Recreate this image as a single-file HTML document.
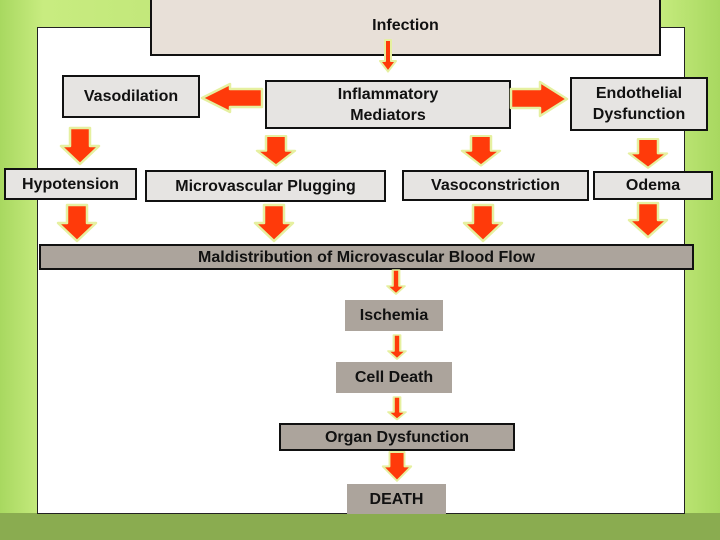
<!DOCTYPE html>
<html><head><style>
body{margin:0;width:720px;height:540px;overflow:hidden;font-family:"Liberation Sans",sans-serif;}
.bg{position:absolute;left:0;top:0;width:720px;height:540px;background:linear-gradient(90deg,#a8d860 0%,#c8ec80 6%,#b8e070 50%,#c4ea7c 92%,#a8d860 100%);}
.bot{position:absolute;left:0;top:513px;width:720px;height:27px;background:#8aac50;}
.panel{position:absolute;left:37px;top:27px;width:646px;height:485px;background:#fff;border:1px solid #222;}
.b{position:absolute;box-sizing:border-box;display:flex;align-items:center;justify-content:center;text-align:center;font-weight:bold;font-size:16px;color:#111;line-height:21px;}
.g{background:#e6e4e2;border:2px solid #111;}
.d{background:#aca49c;}
</style></head><body>
<div class="bg"></div><div class="bot"></div><div class="panel"></div>
<div class="b" style="left:150px;top:-3px;width:511px;height:59px;background:#e8e0d8;border:2px solid #111;align-items:flex-start;padding-top:16px">Infection</div>
<div class="b g" style="left:62px;top:75px;width:138px;height:43px">Vasodilation</div>
<div class="b g" style="left:265px;top:80px;width:246px;height:49px">Inflammatory<br>Mediators</div>
<div class="b g" style="left:570px;top:77px;width:138px;height:54px">Endothelial<br>Dysfunction</div>
<div class="b g" style="left:4px;top:168px;width:133px;height:32px">Hypotension</div>
<div class="b g" style="left:145px;top:170px;width:241px;height:32px">Microvascular Plugging</div>
<div class="b g" style="left:402px;top:170px;width:187px;height:31px">Vasoconstriction</div>
<div class="b g" style="left:593px;top:171px;width:120px;height:29px">Odema</div>
<div class="b d" style="left:39px;top:244px;width:655px;height:26px;border:2px solid #111">Maldistribution of Microvascular Blood Flow</div>
<div class="b d" style="left:345px;top:300px;width:98px;height:31px">Ischemia</div>
<div class="b d" style="left:336px;top:362px;width:116px;height:31px">Cell Death</div>
<div class="b d" style="left:279px;top:423px;width:236px;height:28px;border:2px solid #111">Organ Dysfunction</div>
<div class="b d" style="left:347px;top:484px;width:99px;height:30px">DEATH</div>
<svg width="720" height="540" style="position:absolute;left:0;top:0">
<defs><g id="dn"><polygon points="-10,0 10,0 10,18 19,18 0,36 -19,18 -10,18" fill="#ff3a0a" stroke="#e6f0a0" stroke-width="2.5" stroke-linejoin="round"/></g>
<g id="th"><polygon points="-3,0 3,0 3,20 8,20 0,30 -8,20 -3,20" fill="#ff3a0a" stroke="#e6f0a0" stroke-width="2" stroke-linejoin="round"/></g></defs>
<use href="#dn" transform="translate(80,128)"/>
<use href="#dn" transform="translate(276,136) scale(1,0.82)"/>
<use href="#dn" transform="translate(481,136) scale(1,0.82)"/>
<use href="#dn" transform="translate(648,139) scale(1,0.8)"/>
<use href="#dn" transform="translate(77,205)"/>
<use href="#dn" transform="translate(274,205)"/>
<use href="#dn" transform="translate(483,205)"/>
<use href="#dn" transform="translate(648,203) scale(1,0.95)"/>
<use href="#th" transform="translate(388,40) scale(1,1.05)"/>
<use href="#th" transform="translate(396,270) scale(1.1,0.8)"/>
<use href="#th" transform="translate(397,335) scale(1.1,0.8)"/>
<use href="#th" transform="translate(397,397) scale(1.1,0.75)"/>
<use href="#dn" transform="translate(397,452) scale(0.75,0.8)"/>
<polygon points="262,89 230,89 230,84 202,98 230,112 230,107 262,107" fill="#ff3a0a" stroke="#e6f0a0" stroke-width="2.5" stroke-linejoin="round"/>
<polygon points="511,89 540,89 540,82 567,99 540,116 540,108 511,108" fill="#ff3a0a" stroke="#e6f0a0" stroke-width="2.5" stroke-linejoin="round"/>
</svg>
</body></html>
